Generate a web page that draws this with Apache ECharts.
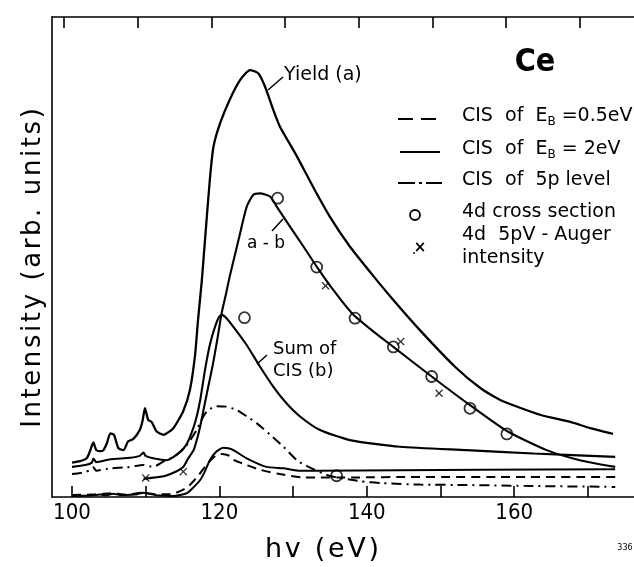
<!DOCTYPE html>
<html>
<head>
<meta charset="utf-8">
<script src="https://cdn.jsdelivr.net/npm/echarts@6/dist/echarts.min.js"></script>
<style>
html,body{margin:0;padding:0;background:#fff;}
#chart{width:634px;height:567px;}
</style>
</head>
<body>
<div id="chart"></div>
<script>
// ---- data (photon energy in eV, intensity in arbitrary units) ----
const xTickValues = [100, 110, 120, 130, 140, 150, 160, 170];
const xLabelValues = [100, 120, 140, 160];

const yieldCurve = [
  [100.0,7.0],[101.1,7.3],[102.0,7.9],[102.4,9.2],[102.9,11.2],[103.3,9.6],[103.8,9.4],[104.25,9.6],
  [104.75,11.1],[105.2,13.1],[105.7,12.8],[106.3,10.0],[107.0,9.6],[107.6,11.4],[108.3,11.9],[109.2,13.8],
  [109.6,15.9],[109.9,18.4],[110.35,15.9],[110.8,15.5],[111.5,13.5],[112.4,12.8],[113.75,14.2],[115.1,17.8],
  [116.0,22.2],[116.7,29.5],[117.1,36.8],[117.6,44.8],[118.05,53.6],[118.7,66.1],[119.2,73.1],[120.1,78.0],
  [121.4,82.9],[122.8,87.0],[124.15,89.1],[125.3,88.4],[126.2,85.6],[127.3,80.8],[128.2,77.3],[130.5,71.1],
  [132.7,64.7],[135.0,58.4],[137.7,52.2],[140.9,46.0],[143.6,41.0],[147.2,34.7],[152.0,27.0],[155.4,22.6],
  [158.1,20.1],[163.5,17.0],[167.6,15.5],[170.3,14.2],[173.4,13.0]
];

const sumCisCurve = [
  [100.0,6.1],[101.8,6.5],[102.7,7.0],[102.9,7.85],[103.3,7.1],[105.2,7.7],[107.9,8.0],[109.2,8.4],
  [109.7,9.1],[110.0,8.4],[111.0,7.9],[112.85,7.5],[114.65,9.2],[115.5,10.7],[116.2,13.1],[116.8,15.9],
  [117.4,20.1],[118.05,26.4],[118.7,31.6],[119.4,35.4],[119.95,37.45],[120.35,37.9],[120.9,37.3],[121.9,35.4],
  [123.7,31.6],[125.5,27.1],[127.3,22.9],[129.1,19.4],[130.9,16.7],[133.65,13.8],[137.7,11.7],[144.5,10.3],
  [153.55,9.6],[162.6,8.9],[173.7,8.2]
];

const aMinusBCurve = [
  [109.7,3.6],[111.3,3.9],[112.6,4.2],[114.2,5.2],[115.1,6.1],[115.7,7.7],[116.5,9.6],[117.0,12.1],
  [117.4,14.6],[117.9,18.4],[118.45,22.6],[119.1,27.4],[119.7,32.6],[120.3,38.2],[120.9,42.3],[121.4,45.9],
  [122.6,53.6],[123.7,60.5],[124.6,63.0],[125.5,63.3],[126.9,62.6],[127.8,60.5],[129.6,56.3],[131.4,52.2],
  [133.2,48.0],[135.45,43.1],[138.0,38.2],[141.0,34.3],[143.6,31.2],[148.8,25.0],[154.0,19.0],[159.0,13.6],
  [164.4,9.6],[168.9,7.5],[173.7,6.1]
];

const cis5pCurve = [
  [100.0,4.6],[101.8,5.0],[102.4,5.4],[102.9,6.0],[103.3,5.3],[105.2,5.8],[107.4,6.0],[109.7,6.5],
  [111.0,6.1],[112.4,7.2],[114.0,8.4],[115.6,10.7],[116.9,13.8],[117.8,16.6],[118.5,18.0],[119.6,18.8],
  [120.9,18.7],[122.35,18.0],[123.7,16.7],[125.1,15.2],[126.9,12.8],[128.7,10.3],[130.5,7.5],[132.1,6.1],
  [135.0,4.2],[139.1,3.1],[142.2,2.7],[147.2,2.4],[153.6,2.3],[162.55,2.1],[171.6,1.95],[173.7,1.9]
];

const cisEb05Curve = [
  [100.0,0.2],[102.4,0.3],[103.8,0.4],[105.6,0.6],[107.2,0.3],[109.7,0.7],[111.3,0.4],[113.3,0.4],
  [114.0,0.6],[115.7,1.9],[117.1,4.2],[118.45,6.9],[119.6,8.6],[120.35,8.8],[121.4,8.4],[121.9,7.6],
  [123.7,6.5],[125.5,5.5],[128.2,4.6],[131.4,3.9],[138.6,3.9],[145.9,4.0],[157.6,4.0],[173.7,4.0]
];

const cisEb2Curve = [
  [100.0,0.0],[102.4,0.1],[103.8,0.3],[104.6,0.15],[105.6,0.5],[106.5,0.2],[108.55,0.3],[109.7,0.7],
  [110.6,0.4],[111.9,0.1],[113.75,0.0],[114.65,0.2],[115.6,0.6],[116.4,1.7],[117.4,3.35],[118.05,5.2],
  [118.7,7.5],[119.6,9.3],[120.5,10.1],[121.2,10.0],[121.9,9.6],[123.7,7.9],[126.4,6.1],[128.7,5.8],
  [130.9,5.3],[133.2,5.3],[144.5,5.4],[155.4,5.5],[173.7,5.6]
];

const crossSection4d = [
  [123.4,37.3],[127.9,62.3],[133.2,47.9],[138.4,37.2],[143.6,31.2],[148.8,25.0],[154.0,18.35],[159.0,13.0],[135.9,4.25]
];

const auger4d5pV = [
  [110.0,3.8],[115.1,5.1],[134.4,44.0],[144.6,32.3],[149.8,21.5]
];

// ---- chart ----
const chart = echarts.init(document.getElementById('chart'), null, {renderer: 'canvas'});
const INK = '#000';
const FONT = 'DejaVu Sans, sans-serif';
const HS = '\u200A';
const crossPath = 'path://M0,1.2L1.2,0L5,3.8L8.8,0L10,1.2L6.2,5L10,8.8L8.8,10L5,6.2L1.2,10L0,8.8L3.8,5Z';

function spaced(s) { return s.split('').join(HS); }

function curve(name, data, lineStyle) {
  return {
    name: name, type: 'line', data: data, smooth: 0.2, symbol: 'none',
    lineStyle: Object.assign({color: INK, width: 2}, lineStyle),
    silent: true, animation: false, z: 3
  };
}

const legendRows = [
  {y: 119, text: 'CIS  of  E{sub|B} =0.5eV'},
  {y: 152, text: 'CIS  of  E{sub|B} = 2eV'},
  {y: 183, text: 'CIS  of  5p level'},
  {y: 215, text: '4d cross section'},
  {y: 238, text: '4d  5pV - Auger'},
  {y: 261, text: 'intensity'}
];

const graphics = [];
legendRows.forEach(function (r) {
  graphics.push({
    type: 'text', left: 462, top: r.y - 12, silent: true,
    style: {text: r.text, font: '19px ' + FONT, fill: INK,
      rich: {sub: {fontSize: 12, fontFamily: 'DejaVu Sans', fill: INK, padding: [10, 0, 0, 0]}}}
  });
});
graphics.push(
  {type: 'line', shape: {x1: 398, y1: 119, x2: 442, y2: 119}, style: {stroke: INK, lineWidth: 2.2, lineDash: [15, 8]}},
  {type: 'line', shape: {x1: 400, y1: 152, x2: 440, y2: 152}, style: {stroke: INK, lineWidth: 2}},
  {type: 'line', shape: {x1: 398, y1: 183, x2: 442, y2: 183}, style: {stroke: INK, lineWidth: 2.2, lineDash: [17, 4, 3, 4]}},
  {type: 'circle', shape: {cx: 415, cy: 215, r: 5}, style: {stroke: INK, fill: 'none', lineWidth: 1.8}},
  {type: 'text', x: 420, y: 248, style: {text: '×', font: 'bold 15px ' + FONT, fill: INK, align: 'center', verticalAlign: 'middle'}},
  {type: 'circle', shape: {cx: 414, cy: 253, r: 0.9}, style: {fill: INK}},
  {type: 'text', x: 535, y: 63, style: {text: 'Ce', font: 'bold 32px DejaVu Sans Condensed, DejaVu Sans, sans-serif', fill: INK, align: 'center', verticalAlign: 'middle'}},
  {type: 'text', x: 284, y: 75, style: {text: 'Yield (a)', font: '19px ' + FONT, fill: INK, align: 'left', verticalAlign: 'middle'}},
  {type: 'line', shape: {x1: 268, y1: 90, x2: 283, y2: 77}, style: {stroke: INK, lineWidth: 1.5}},
  {type: 'text', x: 266, y: 244, style: {text: 'a - b', font: '17px ' + FONT, fill: INK, align: 'center', verticalAlign: 'middle'}},
  {type: 'line', shape: {x1: 272, y1: 231, x2: 283, y2: 219}, style: {stroke: INK, lineWidth: 1.5}},
  {type: 'text', x: 273, y: 349, style: {text: 'Sum of', font: '18px ' + FONT, fill: INK, align: 'left', verticalAlign: 'middle'}},
  {type: 'text', x: 273, y: 371, style: {text: 'CIS (b)', font: '18px ' + FONT, fill: INK, align: 'left', verticalAlign: 'middle'}},
  {type: 'line', shape: {x1: 257, y1: 364, x2: 267, y2: 355}, style: {stroke: INK, lineWidth: 1.5}},
  {type: 'text', x: 322, y: 550, style: {text: spaced('hv (eV)'), font: '27px ' + FONT, fill: INK, align: 'center', verticalAlign: 'middle'}},
  {type: 'text', x: 33, y: 268, rotation: Math.PI / 2, style: {text: spaced('Intensity (arb. units)'), font: '26px ' + FONT, fill: INK, align: 'center', verticalAlign: 'middle'}},
  {type: 'text', x: 625, y: 548, style: {text: '336', font: '8px ' + FONT, fill: INK, align: 'center', verticalAlign: 'middle'}}
);

const option = {
  animation: false,
  backgroundColor: '#fff',
  grid: {left: 52, right: 0, top: 17, bottom: 70, containLabel: false},
  xAxis: [
    {
      type: 'value', position: 'bottom', min: 97.29, max: 176.25,
      axisLine: {show: true, onZero: false, lineStyle: {color: INK, width: 1.6}},
      axisTick: {show: true, inside: true, length: 11, customValues: xTickValues, lineStyle: {color: INK, width: 1.6}},
      axisLabel: {show: true, customValues: xLabelValues, margin: 5, color: INK, fontSize: 22,
        fontFamily: 'Liberation Sans Narrow, DejaVu Sans Condensed, sans-serif'},
      splitLine: {show: false}
    },
    {
      type: 'value', position: 'top', min: 98.38, max: 177.34,
      axisLine: {show: true, onZero: false, lineStyle: {color: INK, width: 1.6}},
      axisTick: {show: true, inside: true, length: 11, customValues: xTickValues, lineStyle: {color: INK, width: 1.6}},
      axisLabel: {show: false},
      splitLine: {show: false}
    }
  ],
  yAxis: {
    type: 'value', min: -0.2, max: 100.2,
    axisLine: {show: true, onZero: false, lineStyle: {color: INK, width: 1.6}},
    axisTick: {show: false}, axisLabel: {show: false}, splitLine: {show: false}
  },
  series: [
    curve('Yield (a)', yieldCurve, {width: 2.3}),
    curve('Sum of CIS (b)', sumCisCurve, {width: 2.1}),
    curve('a-b', aMinusBCurve, {width: 2.1}),
    curve('CIS of 5p level', cis5pCurve, {width: 2, type: [10, 5, 2, 5]}),
    curve('CIS of E_B=0.5eV', cisEb05Curve, {width: 2, type: [9, 6]}),
    curve('CIS of E_B=2eV', cisEb2Curve, {width: 2}),
    {
      name: '4d cross section', type: 'scatter', data: crossSection4d, symbol: 'circle', symbolSize: 11,
      itemStyle: {color: 'rgba(0,0,0,0)', borderColor: INK, borderWidth: 1.8}, z: 4, silent: true
    },
    {
      name: '4d 5pV-Auger intensity', type: 'scatter', data: auger4d5pV, symbol: crossPath, symbolSize: 8,
      itemStyle: {color: INK}, z: 4, silent: true
    }
  ],
  graphic: graphics
};
chart.setOption(option);
</script>
</body>
</html>
